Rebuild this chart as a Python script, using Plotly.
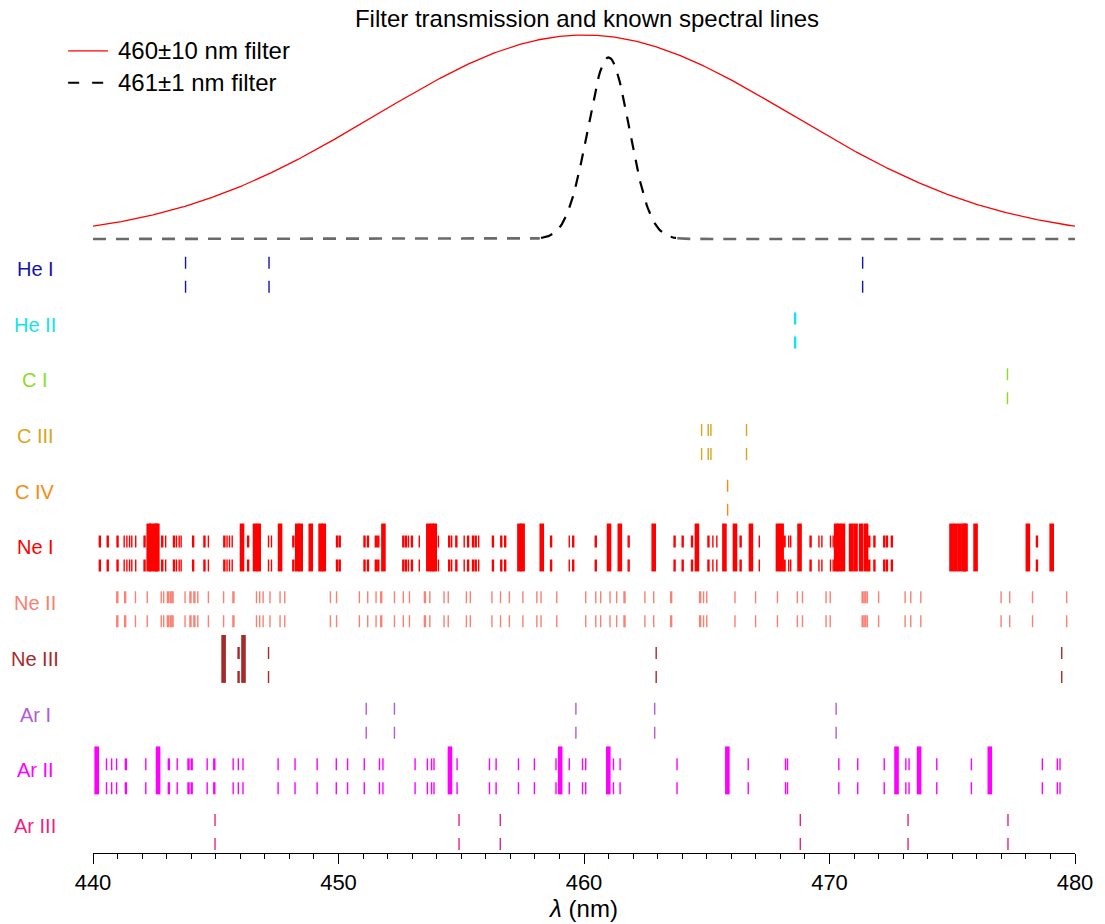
import numpy as np
import plotly.graph_objects as go

# ---------------- data ----------------
species = ["He I", "He II", "C I", "C III", "C IV", "Ne I", "Ne II", "Ne III", "Ar I", "Ar II", "Ar III"]
species_colors = ["#1414a8", "#12e4ee", "#86e020", "#daa520", "#f58a10", "#ff0000",
                  "#fa8072", "#a52a2a", "#b45cd2", "#ff00ff", "#ee1f85"]

# line wavelengths (nm) and strength class (1 thin, 2 medium, 3 strong)
he1_wl = [443.77, 447.17, 471.35]
he1_w = [1, 1, 1]
he2_wl = [468.6]
he2_w = [2]
c1_wl = [477.25]
c1_w = [1]
c3_wl = [464.79, 465.06, 465.17, 466.62]
c3_w = [1, 1, 1, 1]
c4_wl = [465.85]
c4_w = [1]
ne1_wl = [440.28, 440.6, 441.0, 441.27, 441.38, 441.49, 441.58, 441.74, 442.1, 442.27, 442.38, 442.54,
          442.62, 442.82, 442.96, 443.3, 443.4, 443.51, 443.59, 444.08, 444.54, 444.7, 445.35, 445.46,
          445.56, 445.67, 446.07, 446.32, 446.6, 446.75, 447.15, 447.27, 447.62, 448.16, 448.32, 448.46,
          448.87, 449.27, 449.4, 449.94, 450.05, 451.06, 451.2, 451.52, 451.62, 451.83, 452.64, 452.75,
          452.85, 452.99, 453.29, 453.66, 453.8, 453.92, 454.07, 454.51, 454.61, 454.8, 455.12, 455.28,
          455.48, 455.59, 455.71, 456.29, 456.63, 456.79, 457.37, 457.5, 458.28, 458.66, 459.4, 459.56,
          460.48, 461.02, 461.46, 461.8, 461.84, 462.84, 463.69, 464.02, 464.4, 464.6, 465.07, 465.25,
          465.41, 465.72, 466.15, 466.38, 466.8, 467.14, 467.9, 468.05, 468.17, 468.34, 468.42, 468.78,
          469.23, 469.57, 469.69, 470.04, 470.15, 470.27, 470.4, 470.55, 470.88, 471.06, 471.29, 471.49,
          471.62, 471.83, 472.23, 472.34, 472.54, 474.97, 475.13, 475.3, 475.47, 475.54, 475.95, 478.08,
          478.45, 479.05]
ne1_w = [2, 2, 2, 1, 1, 1, 1, 1, 2, 3, 3, 3,
         3, 2, 1, 2, 1, 1, 1, 2, 2, 1, 2, 1,
         1, 1, 3, 2, 3, 3, 1, 1, 3, 2, 3, 3,
         3, 3, 3, 2, 2, 2, 2, 2, 2, 3, 2, 2,
         1, 2, 1, 3, 3, 3, 1, 2, 1, 2, 1, 2,
         2, 2, 1, 2, 2, 2, 3, 3, 3, 2, 1, 2,
         2, 3, 3, 1, 1, 3, 2, 2, 2, 3, 2, 1,
         1, 3, 3, 2, 3, 1, 3, 3, 2, 1, 1, 3,
         2, 1, 1, 1, 1, 3, 3, 3, 3, 3, 3, 3,
         2, 2, 2, 2, 2, 3, 3, 3, 3, 3, 3, 3,
         2, 3]
ne2_wl = [440.99, 441.31, 441.73, 442.21, 442.78, 442.88, 443.05, 443.16, 443.24, 443.75, 443.97, 444.13,
          444.27, 444.7, 445.32, 445.72, 446.66, 446.79, 446.93, 447.21, 447.62, 447.81, 449.67, 449.92,
          450.85, 451.19, 451.53, 451.74, 452.28, 452.64, 452.89, 453.52, 453.72, 454.3, 454.47, 455.21,
          455.37, 456.25, 456.6, 456.96, 457.51, 458.08, 458.25, 458.89, 460.07, 460.48, 460.68, 461.06,
          461.33, 461.65, 462.48, 462.84, 463.55, 464.73, 464.87, 465.0, 466.15, 466.99, 467.88, 468.69,
          468.9, 469.86, 470.03, 471.35, 471.46, 471.54, 472.0, 473.08, 473.31, 473.72, 476.99, 477.34,
          478.27, 479.66]
ne2_w = [2, 2, 1, 1, 1, 1, 2, 2, 2, 1, 2, 2,
         1, 1, 1, 2, 1, 1, 1, 1, 1, 1, 1, 1,
         1, 1, 1, 2, 1, 1, 1, 2, 1, 1, 1, 1,
         1, 1, 1, 1, 1, 1, 1, 1, 1, 1, 1, 1,
         1, 2, 1, 1, 2, 2, 1, 1, 1, 1, 1, 1,
         1, 1, 1, 2, 2, 1, 1, 1, 1, 1, 1, 1,
         1, 1]
ne3_wl = [445.32, 445.93, 446.13, 447.15, 462.94, 479.46]
ne3_w = [3, 2, 3, 1, 1, 1]
ar1_wl = [451.13, 452.28, 459.67, 462.88, 470.27]
ar1_w = [1, 1, 1, 1, 1]
ar2_wl = [440.15, 440.55, 440.76, 440.96, 441.34, 442.15, 442.65, 443.09, 443.43, 443.89, 444.02, 444.65,
          444.94, 445.71, 445.92, 446.11, 447.54, 448.23, 449.13, 449.91, 450.37, 451.05, 451.67, 451.81,
          453.12, 453.62, 453.79, 453.89, 454.54, 454.83, 456.15, 456.42, 457.33, 457.98, 458.86, 459.03,
          459.4, 459.94, 460.07, 460.99, 461.2, 461.47, 463.79, 465.84, 466.69, 468.21, 468.29, 470.38,
          471.15, 472.23, 472.73, 473.11, 473.24, 473.65, 474.37, 475.78, 476.53, 478.67, 479.28, 479.39]
ar2_w = [3, 1, 1, 1, 2, 1, 3, 2, 1, 2, 2, 1,
         2, 1, 1, 1, 1, 1, 1, 1, 1, 1, 1, 1,
         1, 1, 1, 1, 3, 1, 1, 1, 1, 1, 1, 3,
         1, 1, 1, 3, 1, 1, 1, 3, 1, 1, 1, 1,
         1, 1, 3, 1, 1, 3, 1, 1, 3, 1, 1, 1]
ar3_wl = [444.97, 454.91, 456.59, 468.81, 473.2, 477.27]
ar3_w = [1, 1, 1, 1, 1, 1]

line_lists = [(he1_wl, he1_w), (he2_wl, he2_w), (c1_wl, c1_w), (c3_wl, c3_w), (c4_wl, c4_w),
              (ne1_wl, ne1_w), (ne2_wl, ne2_w), (ne3_wl, ne3_w), (ar1_wl, ar1_w),
              (ar2_wl, ar2_w), (ar3_wl, ar3_w)]

# filters: centre, FWHM, peak transmission
filter_names = ["460\u00b110 nm filter", "461\u00b11 nm filter"]
filter_centers = [460.0, 461.0]
filter_fwhm = [20.0, 2.0]
filter_peaks = [1.0, 0.89]

x_ticks = [440, 450, 460, 470, 480]

# ---------------- figure ----------------
FONT = "Liberation Sans, Arial, Helvetica, sans-serif"
W, H = 1105, 924
ML, MR, MT, MB = 93, 25, 30, 67
PW, PH = W - ML - MR, H - MT - MB
fig = go.Figure()


def gauss(x, c, fw, pk):
    sig = fw / (2 * np.sqrt(2 * np.log(2)))
    return pk * np.exp(-(x - c) ** 2 / (2 * sig ** 2))


wl_grid = np.round(np.linspace(440, 480, 801), 3)

# broad filter
T0 = gauss(wl_grid, filter_centers[0], filter_fwhm[0], filter_peaks[0])
fig.add_trace(go.Scatter(x=wl_grid, y=T0, mode="lines", name=filter_names[0], xaxis="x", yaxis="y2",
                         line=dict(color="#ff0000", width=1.3), hoverinfo="skip", showlegend=False))

# narrow filter: wings drawn grey (as in the reference), core drawn black
T1 = gauss(wl_grid, filter_centers[1], filter_fwhm[1], filter_peaks[1])
core = np.abs(wl_grid - filter_centers[1]) <= 2.8
wx, wy = [], []
for side in (wl_grid < filter_centers[1], wl_grid > filter_centers[1]):
    sel = side & ~core
    wx += list(wl_grid[sel]) + [None]
    wy += list(T1[sel]) + [None]
fig.add_trace(go.Scatter(x=wx, y=wy, mode="lines", showlegend=False, xaxis="x", yaxis="y2",
                         line=dict(color="#6a6a6a", width=2.6, dash="13px,10px"), hoverinfo="skip"))
fig.add_trace(go.Scatter(x=wl_grid[core], y=T1[core], mode="lines", name=filter_names[1],
                         xaxis="x", yaxis="y2", showlegend=False,
                         line=dict(color="#000000", width=2.2, dash="12px,10px"), hoverinfo="skip"))

# hand-placed legend (so that it does not push the margins)
def px_x(p):
    return (p - ML) / PW


def px_y(p):
    return (H - MB - p) / PH


legend_styles = [dict(color="#ff0000", width=1.3), dict(color="#000000", width=2.2, dash="11px,13px")]
for k, (name, st) in enumerate(zip(filter_names, legend_styles)):
    yy = px_y(51 + 32 * k)
    fig.add_shape(type="line", xref="paper", yref="paper", x0=px_x(68), x1=px_x(108), y0=yy, y1=yy,
                  line=st)
    fig.add_annotation(xref="paper", yref="paper", x=px_x(116), y=yy, text=name, showarrow=False,
                       xanchor="left", yanchor="middle", font=dict(family=FONT, size=24, color="black"))

n = len(species)
half = 0.43
width_px = {1: 1.4, 2: 2.4, 3: 4.6}
for i, (sp, col, (wls, ws)) in enumerate(zip(species, species_colors, line_lists)):
    row = n - 1 - i
    for cls in (1, 2, 3):
        xs, ys = [], []
        for wl, w in zip(wls, ws):
            if w == cls:
                xs += [wl, wl, None]
                ys += [row - half, row + half, None]
        if not xs:
            continue
        fig.add_trace(go.Scatter(x=xs, y=ys, mode="lines", showlegend=False, hoverinfo="skip",
                                 xaxis="x", yaxis="y",
                                 line=dict(color=col, width=width_px[cls],
                                           dash="solid" if cls == 3 else "12px,12px")))
    fig.add_annotation(x=px_x(35), xref="paper", y=row, yref="y", text=sp, showarrow=False,
                       xanchor="center", yanchor="middle",
                       font=dict(family=FONT, size=20, color=col))

d1 = (H - MB - 244) / PH
fig.update_layout(
    width=W, height=H,
    margin=dict(l=ML, r=MR, t=MT, b=MB),
    paper_bgcolor="white", plot_bgcolor="white",
    font=dict(family=FONT, size=18, color="black"),
    title=dict(text="Filter transmission and known spectral lines", xref="container", x=(587 / W),
               xanchor="center", yref="container", y=1 - 19 / H, yanchor="middle",
               font=dict(family=FONT, size=24, color="black")),
    showlegend=False,
    xaxis=dict(range=[440, 480], anchor="y", showline=True, linecolor="black", linewidth=1,
               ticks="outside", ticklen=10, tickwidth=1, tickcolor="black",
               tickvals=x_ticks, ticktext=[str(t) for t in x_ticks],
               minor=dict(ticks="outside", ticklen=5, dtick=1, tickcolor="black", tickwidth=1),
               showgrid=False, zeroline=False, tickfont=dict(size=22),
               title=dict(text="<i>\u03bb</i> (nm)", font=dict(size=24), standoff=0)),
    yaxis=dict(domain=[0, d1], range=[-0.482, 10.464], visible=False, fixedrange=True),
    yaxis2=dict(domain=[d1, 1], range=[-4 / 205, 210 / 205], visible=False, anchor="x"),
)

fig.write_html("out.html")
